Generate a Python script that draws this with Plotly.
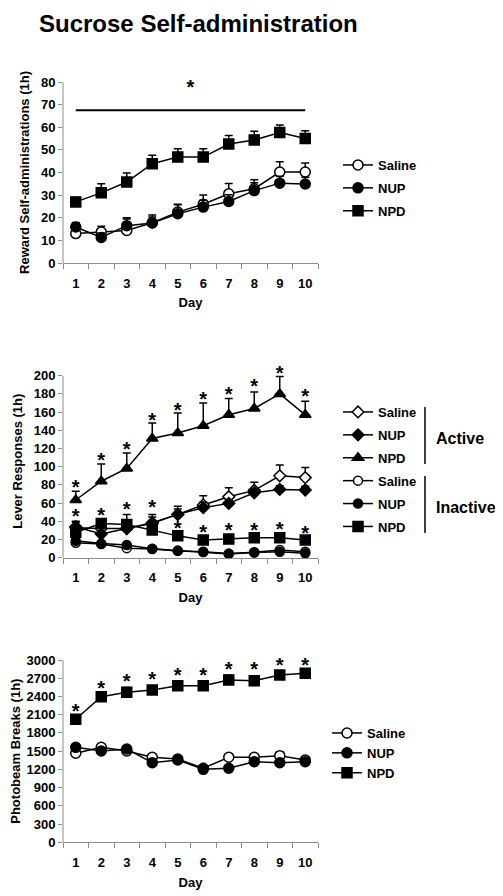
import plotly.graph_objects as go

FONT = "Arial, Liberation Sans, sans-serif"
# page body has an 8px margin; figure is sized so it fits the 503x896 window
OFF = 8
W, H = 503 - OFF, 896 - OFF

days = [1, 2, 3, 4, 5, 6, 7, 8, 9, 10]

# Panel 1: Reward self-administrations
sa_saline = [13, 13.7, 14.4, 17.8, 22.5, 26, 30.6, 32.8, 40.2, 40.2]
sa_saline_err = [2, 2.5, 5, 2.5, 3.5, 4, 4.5, 4, 4.5, 4]
sa_nup = [15.9, 11.3, 16.5, 17.7, 21.8, 24.7, 27.2, 32, 35.3, 34.9]
sa_nup_err = [2, 2, 3.5, 3.5, 4, 3, 3, 3.5, 3, 3]
sa_npd = [27, 31, 35.8, 43.9, 46.8, 46.8, 52.6, 54.4, 57.7, 55]
sa_npd_err = [2, 4, 4, 3.7, 3.7, 3.7, 3.8, 3.8, 3.3, 3.5]
sa_sig_bar = {"start": 1, "end": 10, "y": 67.5}
sa_star_x = [5.5]
sa_star_y = [78.8]

# Panel 2: Lever responses
act_saline = [33, 32, 32, 38.5, 47.6, 58, 67, 74, 90, 88]
act_saline_err = [7, 5, 5, 9, 9, 10, 10, 9, 12, 11]
act_nup = [34, 26, 32, 37.7, 47.6, 55, 59.7, 71.4, 75, 74.4]
act_nup_err = [5, 4, 4, 7, 6, 6, 4, 4, 4, 4]
act_npd = [63.4, 84, 98, 131, 137, 145, 157, 164, 180, 157]
act_npd_err = [9.6, 19, 17, 17, 22, 25, 18, 18, 19, 15]
inact_saline = [16.5, 15, 10.5, 9.5, 7.5, 6.5, 4.5, 6, 8.5, 6.5]
inact_saline_err = [2, 2, 2, 1.5, 1, 1, 1, 1, 1.5, 1]
inact_nup = [18.5, 15.5, 14, 9.8, 7.8, 6.2, 4.2, 5.8, 6.5, 4.8]
inact_nup_err = [2, 2, 2, 1.5, 1, 1, 1, 1, 1, 1]
inact_npd = [28, 37.5, 36.5, 30.5, 24, 19.5, 20.5, 22, 22, 19.5]
inact_npd_err = [5, 4, 11, 6, 3, 2, 2, 2, 2, 2]
lr_star_active = [79.9, 109.9, 121.2, 153.1, 164.8, 176.2, 181.7, 190.5, 205.5, 179.5]
lr_star_inactive = [47.6, 48.7, 56, 57.9, 34.8, 30.4, 32.2, 32.2, 34, 29.7]

# Panel 3: Photobeam breaks
pb_saline = [1465, 1563, 1503, 1399, 1371, 1218, 1399, 1399, 1426, 1355]
pb_saline_err = [40, 50, 50, 50, 50, 40, 60, 60, 60, 40]
pb_nup = [1563, 1503, 1536, 1311, 1355, 1201, 1218, 1327, 1311, 1327]
pb_nup_err = [50, 40, 40, 50, 40, 40, 40, 40, 40, 40]
pb_npd = [2024, 2397, 2468, 2507, 2578, 2578, 2671, 2660, 2754, 2781]
pb_npd_err = [50, 50, 80, 50, 50, 50, 80, 70, 60, 50]
pb_star = [2194, 2578, 2682, 2715, 2781, 2781, 2891, 2880, 2957, 2957]


def px(p):
    return (p - OFF) / W


def py(p):
    return 1 - (p - OFF) / H


# panel pixel extents of the drawn axis (top, bottom), axis value range,
# and extra headroom (in data units) so stars above the axis stay visible
P1 = dict(top=82, bot=263, rng=[0, 80], head=0)
P2 = dict(top=375.7, bot=557.7, rng=[0, 200], head=12)
P3 = dict(top=660, bot=842.3, rng=[0, 3000], head=0)
STAR_DROP_PX = 4  # font-metric correction so the glyph centre sits on its value


def unit_px(p):
    return (p["bot"] - p["top"]) / (p["rng"][1] - p["rng"][0])


fig = go.Figure()


def add_series(y, err, name, symbol, fill, size, xa, ya, legend, group):
    fig.add_trace(go.Scatter(
        x=days, y=y, name=name, mode="lines+markers",
        xaxis=xa, yaxis=ya, legend=legend, legendgroup=group,
        line=dict(color="black", width=1.5),
        marker=dict(symbol=symbol, size=size, color=fill,
                    line=dict(color="black", width=1.5)),
        error_y=dict(type="data", symmetric=False, array=err,
                     arrayminus=[0] * len(err), color="black",
                     thickness=1.5, width=4),
        cliponaxis=False,
    ))


def add_stars(xs, ys, xa, ya, panel):
    drop = STAR_DROP_PX / unit_px(panel)
    fig.add_trace(go.Scatter(
        x=xs, y=[v - drop for v in ys], mode="text", text=["*"] * len(xs),
        textposition="middle center", showlegend=False,
        textfont=dict(family=FONT, size=20, color="black", weight="bold"),
        xaxis=xa, yaxis=ya, cliponaxis=False, hoverinfo="skip",
    ))


# panel 1
add_series(sa_saline, sa_saline_err, "Saline", "circle", "white", 10, "x", "y", "legend", "a1")
add_series(sa_nup, sa_nup_err, "NUP", "circle", "black", 10, "x", "y", "legend", "a2")
add_series(sa_npd, sa_npd_err, "NPD", "square", "black", 10, "x", "y", "legend", "a3")
add_stars(sa_star_x, sa_star_y, "x", "y", P1)

# panel 2
add_series(act_saline, act_saline_err, "Saline", "diamond", "white", 9, "x2", "y2", "legend2", "b1")
add_series(act_nup, act_nup_err, "NUP", "diamond", "black", 9, "x2", "y2", "legend2", "b2")
add_series(act_npd, act_npd_err, "NPD", "triangle-up", "black", 10, "x2", "y2", "legend2", "b3")
add_series(inact_saline, inact_saline_err, "Saline", "circle", "white", 9, "x2", "y2", "legend2", "b4")
add_series(inact_nup, inact_nup_err, "NUP", "circle", "black", 9, "x2", "y2", "legend2", "b5")
add_series(inact_npd, inact_npd_err, "NPD", "square", "black", 10, "x2", "y2", "legend2", "b6")
add_stars(days, lr_star_active, "x2", "y2", P2)
add_stars(days, lr_star_inactive, "x2", "y2", P2)

# panel 3
add_series(pb_saline, pb_saline_err, "Saline", "circle", "white", 10, "x3", "y3", "legend3", "c1")
add_series(pb_nup, pb_nup_err, "NUP", "circle", "black", 10, "x3", "y3", "legend3", "c2")
add_series(pb_npd, pb_npd_err, "NPD", "square", "black", 10, "x3", "y3", "legend3", "c3")
add_stars(days, pb_star, "x3", "y3", P3)

xdom = [px(63), px(318)]
AX = "#8c8c8c"
tickfont = dict(family=FONT, size=13, color="black", weight="bold")
titlefont = dict(family=FONT, size=13, color="black", weight="bold")


def xaxis(anchor):
    return dict(
        domain=xdom, anchor=anchor, range=[0.5, 10.5],
        tickmode="array", tickvals=days, ticktext=[str(d) for d in days],
        ticks="", showline=True, linecolor=AX, linewidth=1,
        showgrid=False, zeroline=False, tickfont=tickfont,
        ticklabelstandoff=8,
        minor=dict(ticks="outside", tickvals=[d - 0.5 for d in days] + [10.5],
                   ticklen=5, tickcolor=AX, tickwidth=1),
        title=dict(text="Day", font=titlefont, standoff=8),
        automargin=False,
    )


def yaxis(anchor, p, dtick, title):
    top_px = p["top"] - p["head"] * unit_px(p)
    return dict(
        domain=[py(p["bot"]), py(top_px)], anchor=anchor,
        range=[p["rng"][0], p["rng"][1] + p["head"]], dtick=dtick, tick0=0,
        ticks="outside", ticklen=4, tickcolor=AX, showline=False,
        showgrid=False, zeroline=False,
        tickfont=tickfont, title=dict(text=title, font=titlefont, standoff=8),
        automargin=False,
    )


legfont = dict(family=FONT, size=13, weight="bold")

fig.update_layout(
    width=W, height=H, margin=dict(l=0, r=0, t=0, b=0),
    paper_bgcolor="white", plot_bgcolor="white",
    font=dict(family=FONT, color="black"),
    xaxis=xaxis("y"), yaxis=yaxis("x", P1, 10, "Reward Self-administrations (1h)"),
    xaxis2=xaxis("y2"), yaxis2=yaxis("x2", P2, 20, "Lever Responses (1h)"),
    xaxis3=xaxis("y3"), yaxis3=yaxis("x3", P3, 300, "Photobeam Breaks (1h)"),
    legend=dict(x=px(338), y=py(150), xanchor="left", yanchor="top",
                font=legfont, tracegroupgap=3, bgcolor="rgba(0,0,0,0)"),
    legend2=dict(x=px(338), y=py(397), xanchor="left", yanchor="top",
                 font=legfont, tracegroupgap=3, bgcolor="rgba(0,0,0,0)"),
    legend3=dict(x=px(327), y=py(718), xanchor="left", yanchor="top",
                 font=legfont, tracegroupgap=0, bgcolor="rgba(0,0,0,0)"),
    showlegend=True,
)

# y axis lines, drawn only over the labelled value range
for xa, ya, p in (("x", "y", P1), ("x2", "y2", P2), ("x3", "y3", P3)):
    fig.add_shape(type="line", xref=f"{xa} domain", yref=ya,
                  x0=0, x1=0, y0=p["rng"][0], y1=p["rng"][1],
                  line=dict(color=AX, width=1))

# significance bar in panel 1
fig.add_shape(type="line", xref="x", yref="y",
              x0=sa_sig_bar["start"], x1=sa_sig_bar["end"],
              y0=sa_sig_bar["y"], y1=sa_sig_bar["y"],
              line=dict(color="black", width=2))

# Active / Inactive brackets in panel 2 legend
fig.add_shape(type="line", xref="paper", yref="paper",
              x0=px(425), x1=px(425), y0=py(407), y1=py(464),
              line=dict(color="black", width=1.5))
fig.add_shape(type="line", xref="paper", yref="paper",
              x0=px(425), x1=px(425), y0=py(476), y1=py(533),
              line=dict(color="black", width=1.5))
fig.add_annotation(text="Active", xref="paper", yref="paper",
                   x=px(434), y=py(438), xanchor="left", yanchor="middle",
                   showarrow=False, font=dict(family=FONT, size=16, weight="bold"))
fig.add_annotation(text="Inactive", xref="paper", yref="paper",
                   x=px(434), y=py(507), xanchor="left", yanchor="middle",
                   showarrow=False, font=dict(family=FONT, size=16, weight="bold"))

# Title
fig.add_annotation(text="Sucrose Self-administration", xref="paper", yref="paper",
                   x=px(37), y=py(8), xanchor="left", yanchor="top",
                   showarrow=False, font=dict(family=FONT, size=24, weight="bold"))

fig.write_html("out.html")
